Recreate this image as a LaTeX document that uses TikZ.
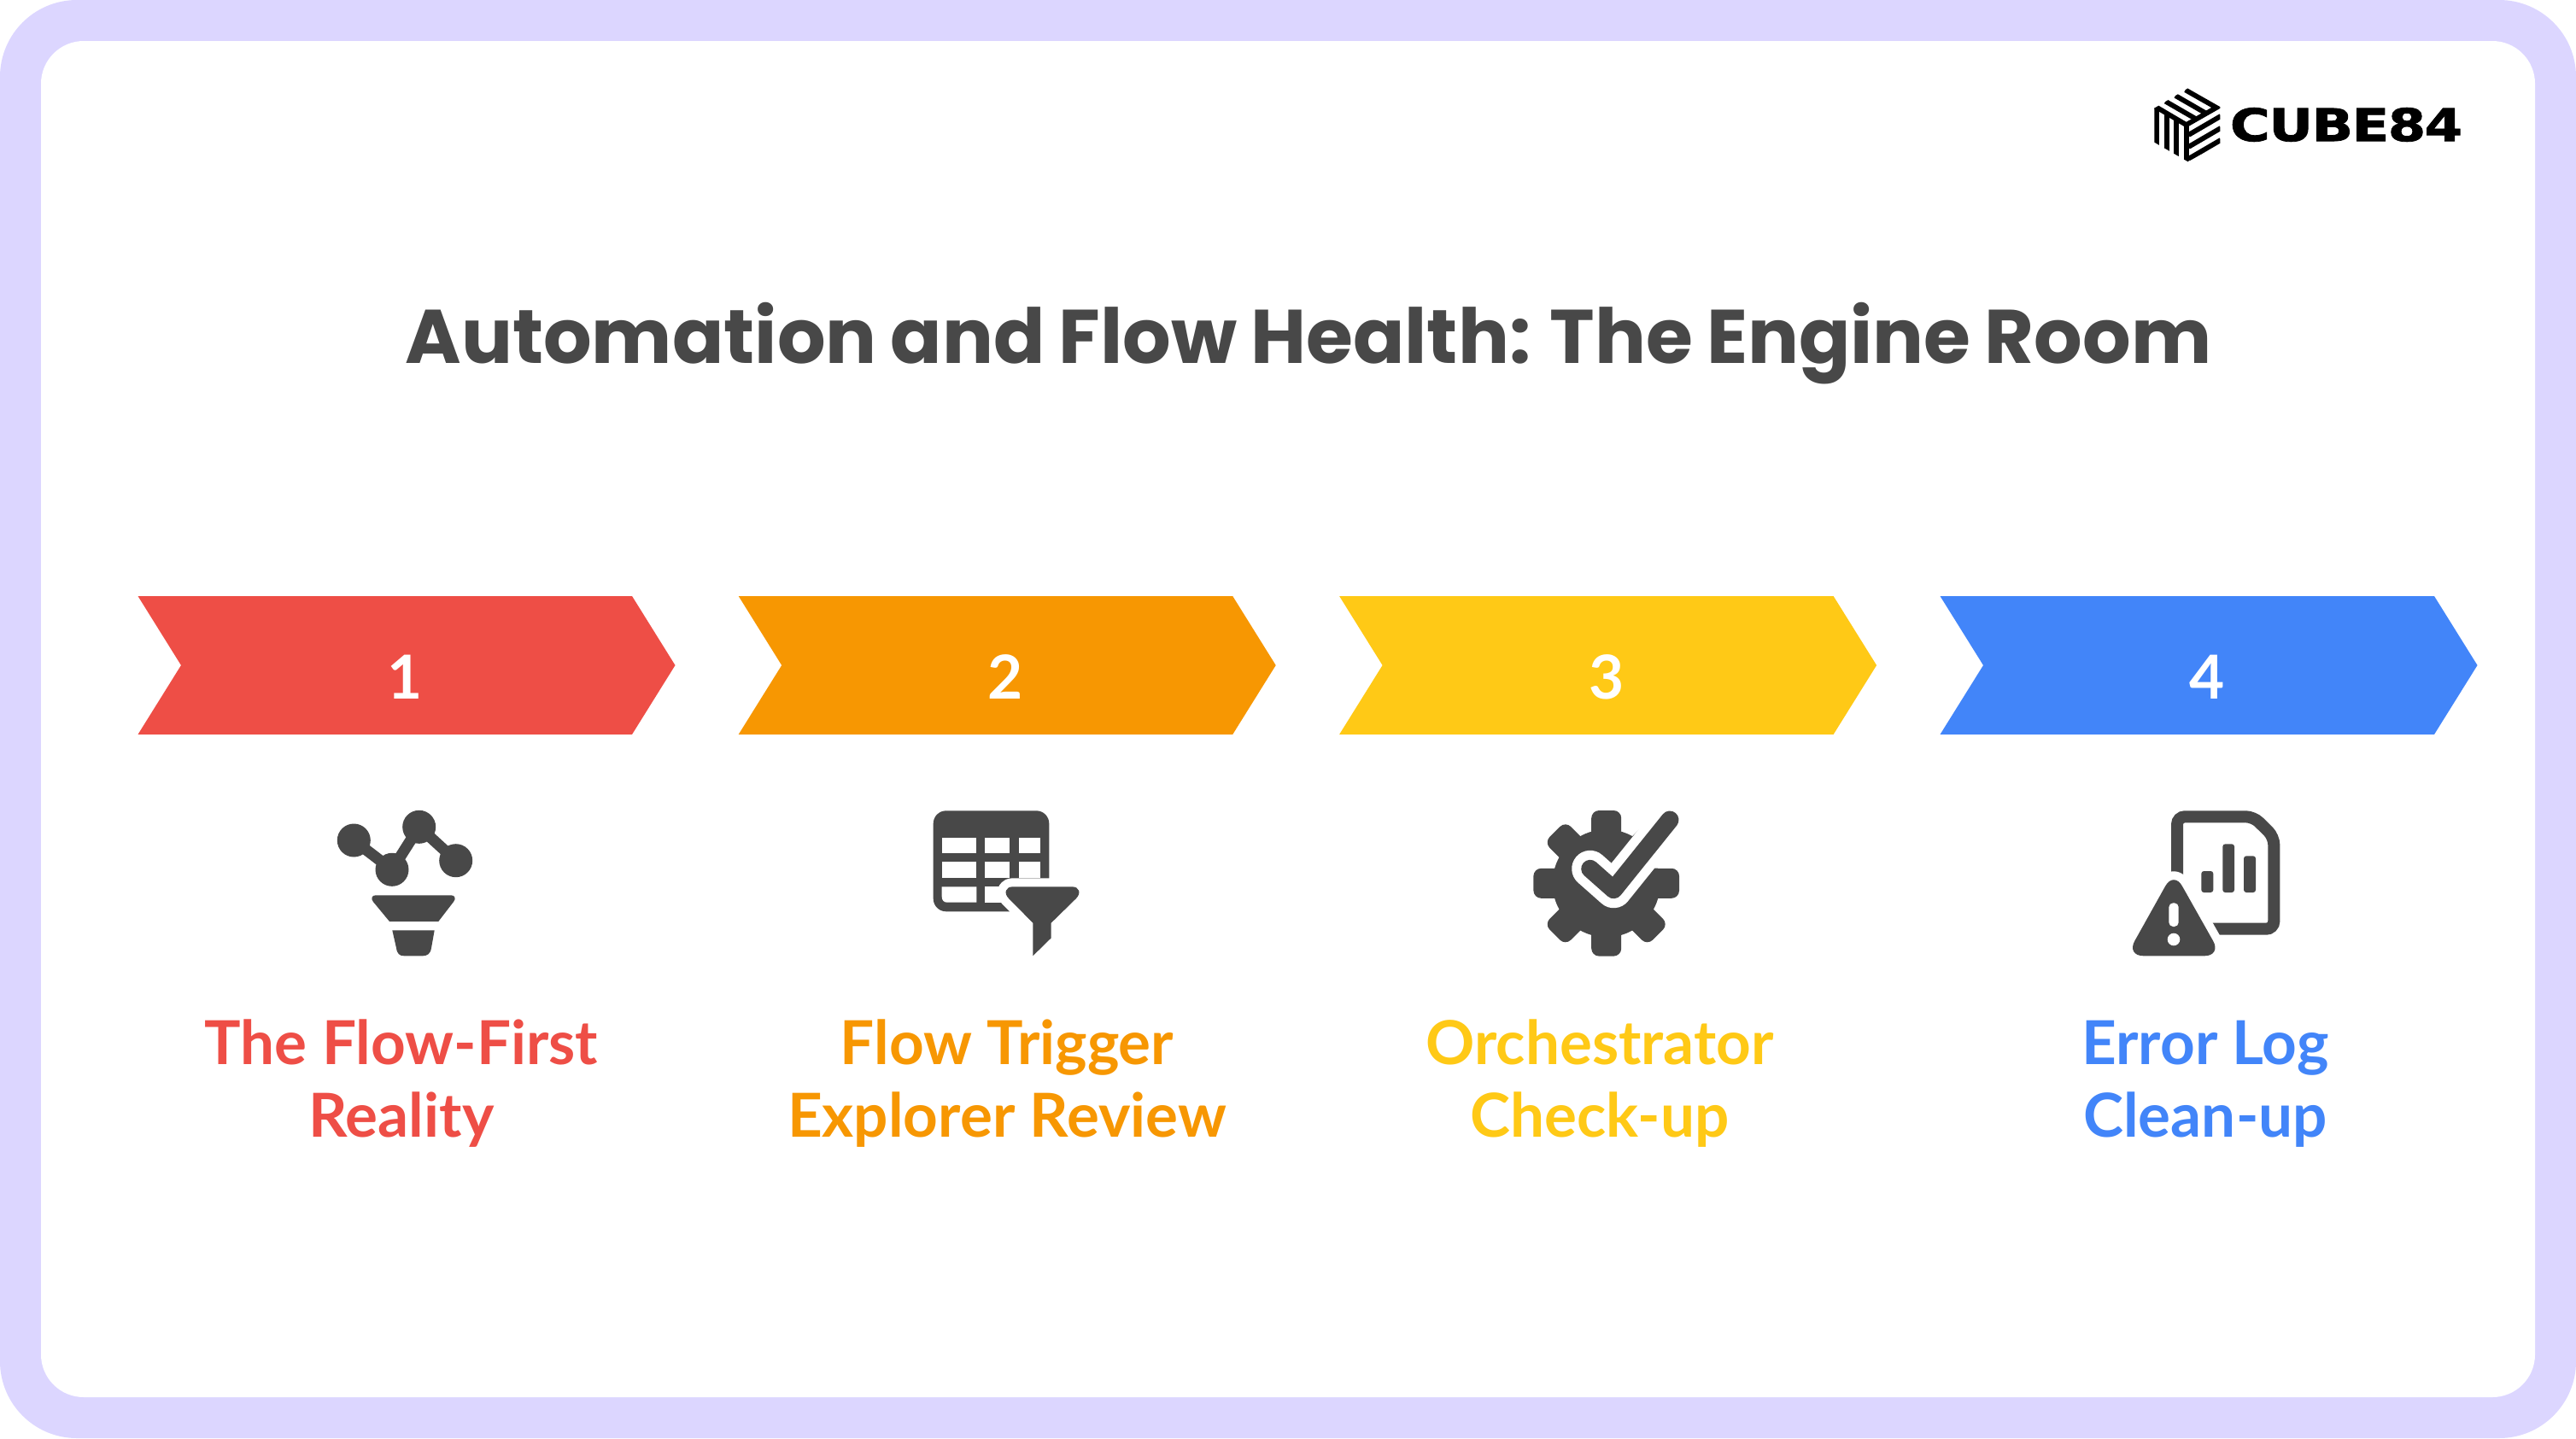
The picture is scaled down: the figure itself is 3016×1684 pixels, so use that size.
\documentclass[tikz,border=0pt]{standalone}
\usepackage{fontspec}
\setmainfont{Lato}
\newfontfamily\titlefont[WordSpace=0.85]{Poppins Bold}
\newfontfamily\labelfont{Lato Bold}
\newfontfamily\logofont[FakeBold=1.5,LetterSpace=-2]{DejaVu Sans Bold}
\definecolor{lav}{HTML}{DCD6FF}
\definecolor{ink}{HTML}{484848}
\definecolor{cred}{HTML}{EE4E46}
\definecolor{corange}{HTML}{F79702}
\definecolor{cyellow}{HTML}{FFC916}
\definecolor{cblue}{HTML}{4285F9}
\tikzset{
  chevron/.style={fill=#1},
  numtext/.style={text=white,font=\labelfont\fontsize{71}{71}\selectfont,inner sep=0pt,anchor=base},
  steplabel/.style={text=#1,font=\labelfont\fontsize{71}{85}\selectfont,align=center,inner sep=0pt,anchor=center},
  icon/.style={fill=ink,draw=none},
  iconline/.style={draw=ink,line cap=butt},
  logostripe/.style={draw=black,line width=5.8pt,line cap=butt,line join=miter},
}
\newcommand{\chev}[2]{\fill[chevron=#2] (#1+161.5,698) -- (#1+740,698) -- (#1+790.5,779) -- (#1+740,860) -- (#1+161.5,860) -- (#1+212,779) -- cycle;}
\newcommand{\tablefunnel}{(1209.3,1080.7) -- (1181,1052) .. controls (1175,1046) and (1177,1038.3) .. (1186,1038.3) -- (1255,1038.3) .. controls (1264,1038.3) and (1266,1046) .. (1260,1052) -- (1230.7,1080.7) -- (1230.7,1098.3) -- (1209.3,1119.3) -- cycle}
\newcommand{\warntri}{[rounded corners=20pt] (2545,1020) -- (2601,1119.3) -- (2489.5,1119.3) -- cycle}
\begin{document}
\begin{tikzpicture}[x=1pt,y=-1pt]
\useasboundingbox (0,0) rectangle (3016,1684);
\fill[white] (0,0) rectangle (3016,1684);
\fill[lav,rounded corners=90pt] (0,0) rectangle (3016,1684);
\fill[white,rounded corners=50pt] (48,48) rectangle (2968,1636);

% logo
\begin{scope}[shift={(2480,70)},x=0.3333pt,y=-0.3333pt]
  \begin{scope}
    \clip (245,100) -- (358,165) -- (358,295) -- (245,358) -- (127,290) -- (127,170) -- cycle;
    \draw[logostripe] (236,106) -- (345,168) -- (240,228);
    \draw[logostripe] (201,126) -- (310,189);
    \draw[logostripe] (166,146) -- (275,209);
    \draw[logostripe] (136,168) -- (136,300);
    \draw[logostripe] (128,163) -- (245,232);
    \draw[logostripe] (171,190) -- (171,320);
    \draw[logostripe] (205,210) -- (205,340);
    \draw[logostripe] (239,230) -- (239,360);
    \draw[logostripe] (360,198) -- (247,264);
    \draw[logostripe] (360,240) -- (247,306);
    \draw[logostripe] (360,282) -- (247,348);
  \end{scope}
\end{scope}
\node[inner sep=0pt,anchor=center] (logo) at (2747,146) {\resizebox{272pt}{39pt}{\logofont CUBE84}};

% title
\node[text=ink,font=\titlefont\fontsize{89}{100}\selectfont,inner sep=0pt,anchor=base] (title) at (1532,425) {Automation and Flow Health: The Engine Room};

% chevrons
\chev{0}{cred}
\chev{703.2}{corange}
\chev{1406.6}{cyellow}
\chev{2110}{cblue}
\node[numtext] (n1) at (474,818) {1};
\node[numtext] (n2) at (1177,818) {2};
\node[numtext] (n3) at (1881,818) {3};
\node[numtext] (n4) at (2584,818) {4};

% labels
\node[steplabel=cred] (l1) at (470,1269) {The Flow-First\\Reality};
\node[steplabel=corange] (l2) at (1179,1269) {Flow Trigger\\Explorer Review};
\node[steplabel=cyellow] (l3) at (1873,1269) {Orchestrator\\Check-up};
\node[steplabel=cblue] (l4) at (2582,1269) {Error Log\\Clean-up};

% icon 1
\draw[iconline,line width=13pt] (414.3,984) -- (459,1018.3) -- (490.7,968.3) -- (533.7,1007.7);
\foreach \p in {(414.3,984),(459,1018.3),(490.7,968.3),(533.7,1007.7)} \fill[ink] \p circle[radius=19.5pt];
\fill[icon] (456,1079) -- (437,1056) .. controls (433.5,1051.5) and (436,1048.3) .. (440,1048.3) -- (528,1048.3) .. controls (532,1048.3) and (534.5,1051.5) .. (531,1056) -- (513.3,1079) -- cycle;
\fill[icon] (459.3,1089.3) -- (508.7,1089.3) -- (505,1110) .. controls (504,1117) and (500,1119.3) .. (495,1119.3) -- (473,1119.3) .. controls (468,1119.3) and (465,1117) .. (464,1110) -- cycle;

% icon 2
\fill[icon,rounded corners=15pt] (1092.7,949.3) rectangle (1228.3,1067.3);
\foreach \xa/\xb in {1102.7/1143.3,1153.3/1182.3,1192.7/1218}
  \foreach \ya/\yb in {981/999,1009.3/1027.7}
    \fill[white] (\xa,\ya) rectangle (\xb,\yb);
\fill[white] (1102.7,1038.3) -- (1143.3,1038.3) -- (1143.3,1056.7) -- (1109,1056.7) .. controls (1105,1056.7) and (1102.7,1054) .. (1102.7,1050) -- cycle;
\fill[white] (1153.3,1038.3) rectangle (1182.3,1056.7);
\fill[white] (1192.7,1038.3) rectangle (1218,1056.7);
\path[draw=white,fill=white,line width=20pt,line join=round] \tablefunnel;
\fill[icon] \tablefunnel;

% icon 3
\fill[ink] (1880.7,1034.3) circle[radius=63pt];
\foreach \a in {0,45,90,135,180,225,270,-45}{
  \begin{scope}[shift={(1880.7,1034.3)},rotate=\a]
    \fill[ink,rounded corners=9pt] (40,-17.5) rectangle (85.3,17.5);
  \end{scope}
}
\fill[white] (1909,1016.7) -- (1985,1016.7) -- (1985,935) -- (1960,935) -- cycle;
\draw[white,line width=43pt,line cap=round,line join=round] (1861.7,1017.3) -- (1889.3,1041.7) -- (1955,960);
\draw[ink,line width=21pt,line cap=round,line join=round] (1861.7,1017.3) -- (1889.3,1041.7) -- (1955,960);

% icon 4
\draw[iconline,line width=14pt,rounded corners=9pt] (2549,1030) -- (2549,956.3) -- (2638.3,956.3) -- (2662.3,980) -- (2662.3,1087.7) -- (2585,1087.7);
\fill[icon,rounded corners=3pt] (2577.3,1020) rectangle (2591.3,1045);
\fill[icon,rounded corners=3pt] (2602.3,988.3) rectangle (2616,1045);
\fill[icon,rounded corners=3pt] (2627,1002.3) rectangle (2641,1045);
\path[draw=white,fill=white,line width=20pt,line join=round] \warntri;
\fill[icon] \warntri;
\fill[white,rounded corners=5pt] (2539.3,1057.3) rectangle (2550.7,1085);
\fill[white] (2545,1100) circle[radius=7.3pt];
\end{tikzpicture}
\end{document}
